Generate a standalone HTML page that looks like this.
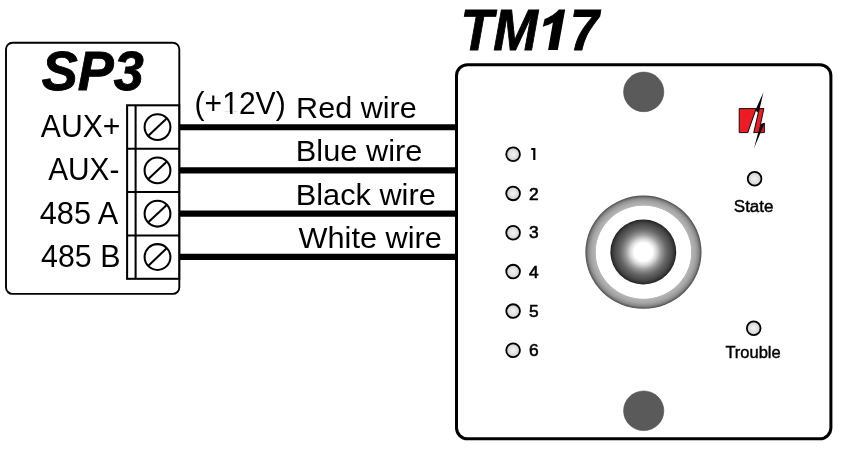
<!DOCTYPE html>
<html>
<head>
<meta charset="utf-8">
<title>SP3 - TM17 wiring</title>
<style>
html,body{margin:0;padding:0;background:#fff;}
body{width:845px;height:450px;overflow:hidden;font-family:"Liberation Sans",sans-serif;}
svg{display:block;will-change:transform;}
text{font-family:"Liberation Sans",sans-serif;fill:#000;}
</style>
</head>
<body>
<svg width="845" height="450" viewBox="0 0 845 450">
<defs>
<radialGradient id="led" cx="50%" cy="50%" r="50%">
<stop offset="0" stop-color="#f4f4f4"/>
<stop offset="0.6" stop-color="#e0e0e0"/>
<stop offset="1" stop-color="#c4c4c4"/>
</radialGradient>
<radialGradient id="ring" cx="50%" cy="50%" r="50%">
<stop offset="0" stop-color="#ffffff"/>
<stop offset="0.815" stop-color="#ffffff"/>
<stop offset="0.828" stop-color="#b6b6b6"/>
<stop offset="0.9" stop-color="#a4a4a4"/>
<stop offset="0.95" stop-color="#8a8a8a"/>
<stop offset="0.982" stop-color="#646464"/>
<stop offset="1" stop-color="#484848"/>
</radialGradient>
<radialGradient id="ball" cx="50%" cy="50%" r="50%">
<stop offset="0" stop-color="#ffffff"/>
<stop offset="0.28" stop-color="#ffffff"/>
<stop offset="0.4" stop-color="#d8d8d8"/>
<stop offset="0.55" stop-color="#969696"/>
<stop offset="0.7" stop-color="#686868"/>
<stop offset="0.88" stop-color="#464646"/>
<stop offset="0.97" stop-color="#2c2c2c"/>
<stop offset="1" stop-color="#1a1a1a"/>
</radialGradient>
</defs>
<rect width="845" height="450" fill="#fff"/>

<!-- wires -->
<g stroke="#000" stroke-width="6.1">
<line x1="179" y1="127.3" x2="457" y2="127.3"/>
<line x1="179" y1="170.4" x2="457" y2="170.4"/>
<line x1="179" y1="213.6" x2="457" y2="213.6"/>
<line x1="179" y1="256.9" x2="457" y2="256.9"/>
</g>

<!-- SP3 box -->
<rect x="6" y="42.7" width="173.3" height="251.2" rx="6.5" ry="6.5" fill="#fff" stroke="#000" stroke-width="1.9"/>
<text id="t_sp3" x="41.8" y="89.5" font-size="56.4" font-weight="bold" font-style="italic" stroke="#000" stroke-width="0.9" textLength="102" lengthAdjust="spacingAndGlyphs">SP3</text>

<g font-size="32.1" text-anchor="end">
<text id="t_aux1" transform="translate(120.4 137) scale(0.94 1)">AUX+</text>
<text id="t_aux2" transform="translate(119.4 180.4) scale(0.929 1)">AUX-</text>
<text id="t_485a" transform="translate(118.3 223.6) scale(0.957 1)">485 A</text>
<text id="t_485b" transform="translate(120.4 267) scale(0.946 1)">485 B</text>
</g>

<!-- terminal block -->
<g fill="#fff" stroke="#000" stroke-width="2.05">
<rect x="127.1" y="105.3" width="52.1" height="173.5"/>
<line x1="135.6" y1="105.3" x2="135.6" y2="278.8"/>
<line x1="127.1" y1="148.7" x2="179.2" y2="148.7"/>
<line x1="127.1" y1="192" x2="179.2" y2="192"/>
<line x1="127.1" y1="235.4" x2="179.2" y2="235.4"/>
<circle cx="157.5" cy="127.1" r="12.9"/>
<circle cx="157.5" cy="170.4" r="12.9"/>
<circle cx="157.5" cy="213.7" r="12.9"/>
<circle cx="157.5" cy="257" r="12.9"/>
<line x1="148.6" y1="135.5" x2="166.4" y2="118.7"/>
<line x1="148.6" y1="178.8" x2="166.4" y2="162"/>
<line x1="148.6" y1="222.1" x2="166.4" y2="205.3"/>
<line x1="148.6" y1="265.4" x2="166.4" y2="248.6"/>
</g>

<!-- wire labels -->
<text id="t_12v" x="194.6" y="114.4" font-size="31.5" textLength="91.1" lengthAdjust="spacingAndGlyphs">(+12V)</text>
<rect x="223" y="111.4" width="6.95" height="4.2" fill="#fff"/><rect x="232.5" y="111.4" width="5.8" height="4.2" fill="#fff"/>
<g font-size="30.3">
<text id="t_red" transform="translate(296.1 117.9) scale(1.0095 1)">Red wire</text>
<text id="t_blue" transform="translate(295.8 161) scale(1.016 1)">Blue wire</text>
<text id="t_black" transform="translate(295.7 204.6) scale(1.015 1)">Black wire</text>
<text id="t_white" transform="translate(298.5 247.5) scale(1.014 1)">White wire</text>
</g>

<!-- TM17 -->
<g font-size="57.7" font-weight="bold" font-style="italic" stroke="#000" stroke-width="0.9">
<text id="t_tm" transform="translate(460.5 49.6) scale(0.928 1)">TM</text>
<text id="t_7" transform="translate(569.9 49.8) scale(0.9 0.985)">7</text>
</g>
<path id="one" d="M565.2,9.4 L558.9,9.4 C556,13 550,17 544.6,18.9 L542.8,26.7 C546.5,25.8 550,24.5 552.9,22.6 L548.1,50 L557.8,50 Z" fill="#000"/>
<rect x="456.5" y="64.7" width="374.4" height="374.1" rx="11" ry="11" fill="#fff" stroke="#000" stroke-width="3"/>

<ellipse cx="643.7" cy="91.9" rx="20.1" ry="19.8" fill="#5a5a5a" stroke="#4c4c4c" stroke-width="0.6"/>
<ellipse cx="643.7" cy="410.8" rx="20.1" ry="19.8" fill="#5a5a5a" stroke="#4c4c4c" stroke-width="0.6"/>

<!-- center button -->
<ellipse cx="643.45" cy="252.2" rx="58.05" ry="56.6" fill="url(#ring)"/>
<ellipse cx="643.3" cy="252" rx="32.9" ry="32.5" fill="url(#ball)"/>

<!-- LEDs -->
<g fill="url(#led)" stroke="#000" stroke-width="1.8">
<circle cx="513.1" cy="154.2" r="6.85"/>
<circle cx="513.1" cy="193.4" r="6.85"/>
<circle cx="513.1" cy="232.7" r="6.85"/>
<circle cx="513.1" cy="271.6" r="6.85"/>
<circle cx="513.1" cy="311.1" r="6.85"/>
<circle cx="513.1" cy="350.3" r="6.85"/>
<circle cx="754.6" cy="178.8" r="6.85"/>
<circle cx="753.7" cy="328.2" r="6.85"/>
</g>
<path d="M531.2,148.1 h4.2 v12 h-2.2 v-10.1 h-2 z" fill="#000"/>
<g font-size="16.5" stroke="#000" stroke-width="0.6">
<text transform="translate(528.9 199.5) scale(1.05 1)">2</text>
<text transform="translate(528.9 238.3) scale(1.05 1)">3</text>
<text transform="translate(528.9 277.5) scale(1.05 1)">4</text>
<text transform="translate(528.9 316.7) scale(1.05 1)">5</text>
<text transform="translate(528.9 355.9) scale(1.05 1)">6</text>
</g>
<g font-size="17.3" stroke="#000" stroke-width="0.45">
<text x="733.8" y="211.8" textLength="39.7" lengthAdjust="spacingAndGlyphs">State</text>
<text x="725.4" y="357.9" textLength="55.3" lengthAdjust="spacingAndGlyphs">Trouble</text>
</g>

<!-- logo -->
<g stroke-linejoin="miter">
<polygon points="739.2,108.6 763.9,108.6 760.5,124.6 764.4,123.3 764.4,132.6 739.2,132.6" fill="#ed1c24" stroke="#000" stroke-width="0.9"/>
<polygon points="756.2,108.6 759.3,108.6 753.7,133.4 747.5,133.4" fill="#fff"/>
<line x1="756.2" y1="108.6" x2="747.7" y2="132.8" stroke="#000" stroke-width="1"/>
<line x1="759.3" y1="108.6" x2="753.7" y2="132.8" stroke="#000" stroke-width="1"/>
<polygon points="763.4,92.2 755.7,109.4 757.2,112.8 759.5,109.4" fill="#000"/>
<polygon points="764.7,122.8 760.2,124.9 754,148.2" fill="#000"/>
</g>
</svg>
</body>
</html>
